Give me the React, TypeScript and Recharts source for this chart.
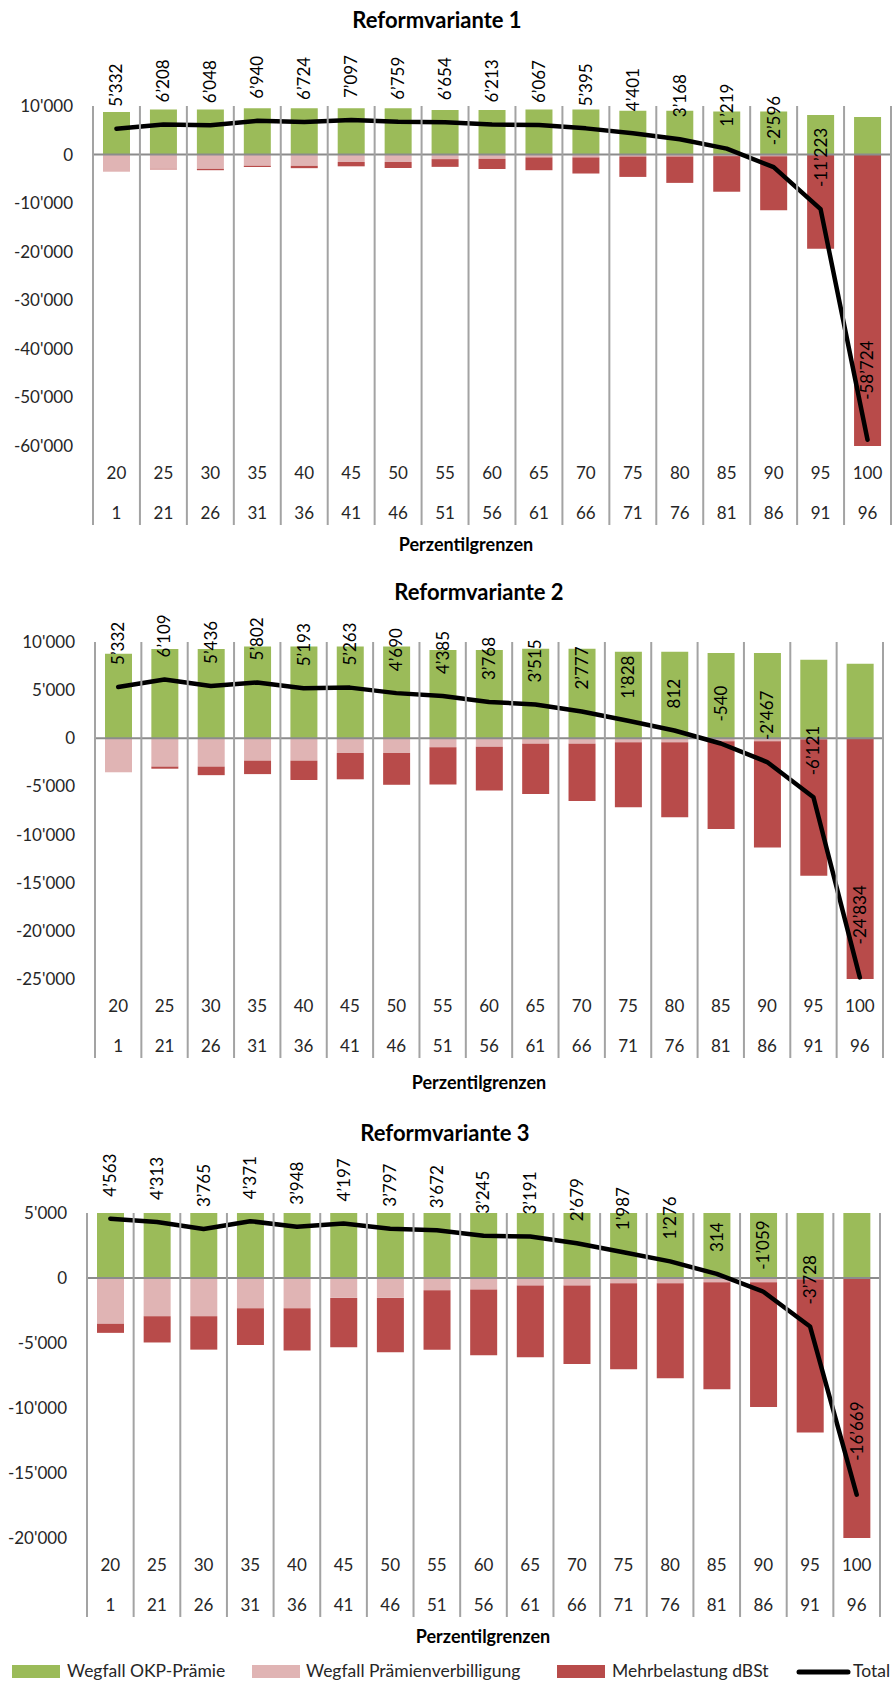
import React from "react";
import {
  Bar,
  ComposedChart,
  LabelList,
  Line,
  ReferenceLine,
  XAxis,
  YAxis,
} from "recharts";

// percentile bounds, two-row category axis
const upperBounds = ["20", "25", "30", "35", "40", "45", "50", "55", "60", "65", "70", "75", "80", "85", "90", "95", "100"];
const lowerBounds = ["1", "21", "26", "31", "36", "41", "46", "51", "56", "61", "66", "71", "76", "81", "86", "91", "96"];

// same in all three variants
const okpPremium = [8780, 9270, 9270, 9520, 9520, 9520, 9520, 9180, 9180, 9290, 9290, 9000, 9000, 8870, 8870, 8150, 7730];
const premiumReduction = [3530, 2940, 2940, 2320, 2320, 1530, 1530, 940, 880, 580, 580, 400, 400, 320, 320, 90, 0];

const dbstV1 = [0, 120, 280, 260, 480, 890, 1230, 1590, 2090, 2640, 3320, 4200, 5430, 7330, 11150, 19280, 66450];
const totalV1 = [5332, 6208, 6048, 6940, 6724, 7097, 6759, 6654, 6213, 6067, 5395, 4401, 3168, 1219, -2596, -11223, -58724];

const dbstV2 = [0, 220, 890, 1400, 2010, 2730, 3300, 3860, 4530, 5200, 5930, 6770, 7790, 9090, 11020, 14180, 32560];
const totalV2 = [5332, 6109, 5436, 5802, 5193, 5263, 4690, 4385, 3768, 3515, 2777, 1828, 812, -540, -2467, -6121, -24834];

const dbstV3 = [690, 2020, 2570, 2830, 3250, 3790, 4190, 4570, 5060, 5520, 6030, 6610, 7320, 8240, 9610, 11790, 24400];
const totalV3 = [4563, 4313, 3765, 4371, 3948, 4197, 3797, 3672, 3245, 3191, 2679, 1987, 1276, 314, -1059, -3728, -16669];

const ticksV1 = [-60000, -50000, -40000, -30000, -20000, -10000, 0, 10000];
const ticksV2 = [-25000, -20000, -15000, -10000, -5000, 0, 5000, 10000];
const ticksV3 = [-20000, -15000, -10000, -5000, 0, 5000];

const FONT = "Lato, 'Open Sans', sans-serif";
const GREEN = "#9bbb59";
const PINK = "#e0b4b4";
const RED = "#b84b4a";
const GRID = "#a3a3a3";
const TEXT = "#262626";
const W = 895;
const X_AXIS_H = 90;

type Variant = {
  title: string;
  dbst: number[];
  total: number[];
  ticks: number[];
  top: number;
  height: number;
  plotLeft: number;
  plotRight: number;
  plotTop: number;
  plotBottom: number;
  titleX: number;
  titleBase: number;
  axisTitleX: number;
  axisTitleBase: number;
  lastLift: number;
};

const variants: Variant[] = [
  {
    title: "Reformvariante 1",
    dbst: dbstV1,
    total: totalV1,
    ticks: ticksV1,
    top: 0,
    height: 560,
    plotLeft: 93,
    plotRight: 891,
    plotTop: 106,
    plotBottom: 446,
    titleX: 437,
    titleBase: 28,
    axisTitleX: 466,
    axisTitleBase: 551,
    lastLift: 40,
  },
  {
    title: "Reformvariante 2",
    dbst: dbstV2,
    total: totalV2,
    ticks: ticksV2,
    top: 560,
    height: 545,
    plotLeft: 95,
    plotRight: 883,
    plotTop: 642,
    plotBottom: 979,
    titleX: 479,
    titleBase: 600,
    axisTitleX: 479,
    axisTitleBase: 1089,
    lastLift: 33,
  },
  {
    title: "Reformvariante 3",
    dbst: dbstV3,
    total: totalV3,
    ticks: ticksV3,
    top: 1105,
    height: 578,
    plotLeft: 87,
    plotRight: 880,
    plotTop: 1213,
    plotBottom: 1538,
    titleX: 445,
    titleBase: 1141,
    axisTitleX: 483,
    axisTitleBase: 1643,
    lastLift: 34,
  },
];

function fmt(v: number, sep: string): string {
  const s = Math.abs(Math.round(v))
    .toString()
    .replace(/\B(?=(\d{3})+(?!\d))/g, sep);
  return (v < 0 ? "-" : "") + s;
}

function VariantChart({ v }: { v: Variant }) {
  const data = upperBounds.map((u, i) => ({
    upper: u,
    lower: lowerBounds[i],
    okp: okpPremium[i],
    pv: -premiumReduction[i],
    dbst: -v.dbst[i],
    total: v.total[i],
  }));
  const domain: [number, number] = [v.ticks[0], v.ticks[v.ticks.length - 1]];
  const pt = v.plotTop - v.top;
  const pb = v.plotBottom - v.top;
  const last = upperBounds.length - 1;

  const renderTick = (props: any) => {
    const { x, payload } = props;
    const i = payload?.index ?? props.index ?? 0;
    const half = payload?.offset || (v.plotRight - v.plotLeft) / (upperBounds.length * 2);
    return (
      <g>
        <line x1={x - half} x2={x - half} y1={pt} y2={pb + 79} stroke={GRID} strokeWidth={2} />
        {i === last && (
          <line x1={x + half} x2={x + half} y1={pt} y2={pb + 79} stroke={GRID} strokeWidth={2} />
        )}
        <text x={x} y={pb + 33} textAnchor="middle" fontSize={17} fontFamily={FONT} fill={TEXT}>
          {payload.value}
        </text>
        <text x={x} y={pb + 73} textAnchor="middle" fontSize={17} fontFamily={FONT} fill={TEXT}>
          {lowerBounds[i]}
        </text>
      </g>
    );
  };

  const renderLabel = (props: any) => {
    const x = props.x ?? props.viewBox?.x;
    const y = props.y ?? props.viewBox?.y;
    const idx = props.index ?? 0;
    const value = typeof props.value === "number" ? props.value : v.total[idx];
    const lift = idx === last ? v.lastLift : 22;
    return (
      <text
        transform={`translate(${x},${y - lift}) rotate(-90)`}
        dy="0.35em"
        fontSize={17}
        fontFamily={FONT}
        fill="#000"
      >
        {fmt(value, "\u2019")}
      </text>
    );
  };

  return (
    <div style={{ position: "absolute", left: 0, top: v.top }}>
      <ComposedChart
        width={W}
        height={v.height}
        data={data}
        stackOffset="sign"
        barSize={27}
        margin={{
          top: pt,
          right: W - v.plotRight,
          bottom: v.height - pb - X_AXIS_H,
          left: 0,
        }}
      >
        <XAxis
          dataKey="upper"
          interval={0}
          height={X_AXIS_H}
          axisLine={false}
          tickLine={false}
          tick={renderTick}
        />
        <YAxis
          yAxisId="bars"
          width={v.plotLeft}
          domain={domain}
          ticks={v.ticks}
          interval={0}
          allowDataOverflow
          axisLine={false}
          tickLine={false}
          tickSize={0}
          tickMargin={20}
          tick={{ fontSize: 17, fontFamily: FONT, fill: TEXT }}
          tickFormatter={(t: number) => fmt(t, "'")}
        />
        <YAxis yAxisId="line" hide domain={domain} />
        <Bar yAxisId="bars" dataKey="okp" stackId="s" fill={GREEN} isAnimationActive={false} />
        <Bar yAxisId="bars" dataKey="pv" stackId="s" fill={PINK} isAnimationActive={false} />
        <Bar yAxisId="bars" dataKey="dbst" stackId="s" fill={RED} isAnimationActive={false} />
        <ReferenceLine yAxisId="bars" y={0} stroke="#8c8c8c" strokeWidth={2} />
        <Line
          yAxisId="line"
          dataKey="total"
          type="linear"
          stroke="#000"
          strokeWidth={4.5}
          strokeLinejoin="round"
          strokeLinecap="round"
          dot={false}
          activeDot={false}
          isAnimationActive={false}
        >
          <LabelList dataKey="total" content={renderLabel} />
        </Line>
      </ComposedChart>
    </div>
  );
}

const legendItems = [
  { label: "Wegfall OKP-Prämie", color: GREEN, swatchX: 12, textX: 67, kind: "bar" },
  { label: "Wegfall Prämienverbilligung", color: PINK, swatchX: 252, textX: 306, kind: "bar" },
  { label: "Mehrbelastung dBSt", color: RED, swatchX: 557, textX: 612, kind: "bar" },
  { label: "Total", color: "#000", swatchX: 799, textX: 853, kind: "line" },
];

export default function App() {
  return (
    <div
      style={{
        position: "absolute",
        left: 0,
        top: 0,
        width: W,
        height: 1683,
        overflow: "hidden",
        background: "#fff",
        fontFamily: FONT,
      }}
    >
      {variants.map((v) => (
        <VariantChart key={v.title} v={v} />
      ))}
      <svg
        width={W}
        height={1683}
        style={{ position: "absolute", left: 0, top: 0, pointerEvents: "none" }}
      >
        {variants.map((v) => (
          <g key={v.title}>
            <text x={v.titleX} y={v.titleBase} textAnchor="middle" fontSize={22} fontWeight="bold" fontFamily={FONT} fill="#000">
              {v.title}
            </text>
            <text x={v.axisTitleX} y={v.axisTitleBase} textAnchor="middle" fontSize={18} fontWeight="bold" fontFamily={FONT} fill="#000">
              Perzentilgrenzen
            </text>
          </g>
        ))}
        {legendItems.map((it) => (
          <g key={it.label}>
            {it.kind === "bar" ? (
              <rect x={it.swatchX} y={1665} width={48} height={13} fill={it.color} />
            ) : (
              <line x1={it.swatchX} x2={it.swatchX + 49} y1={1672} y2={1672} stroke={it.color} strokeWidth={5} strokeLinecap="round" />
            )}
            <text x={it.textX} y={1677} fontSize={17.5} fontFamily={FONT} fill={TEXT}>
              {it.label}
            </text>
          </g>
        ))}
      </svg>
    </div>
  );
}
